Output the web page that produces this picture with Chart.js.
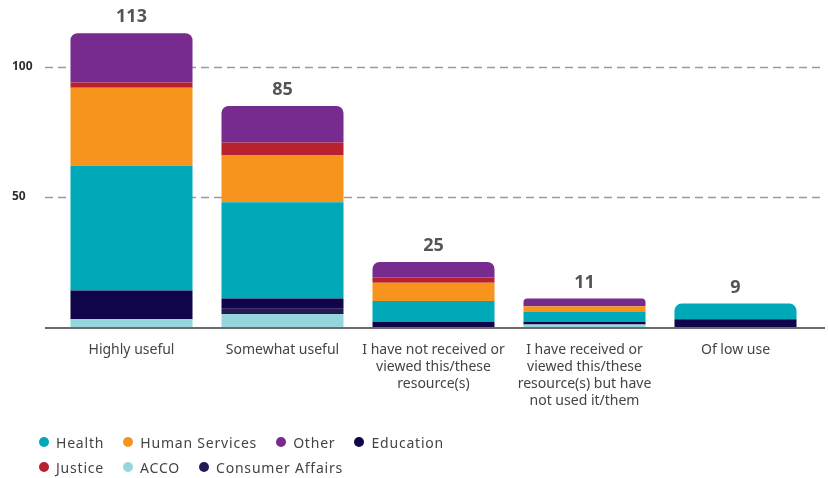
<!DOCTYPE html>
<html>
<head>
<meta charset="utf-8">
<script src="https://cdn.jsdelivr.net/npm/chart.js@4/dist/chart.umd.min.js"></script>
<style>
  html, body { margin: 0; padding: 0; background: #fff; }
  #wrap { position: relative; width: 828px; height: 478px; }
  #legend {
    position: absolute; left: 39px; top: 432px; width: 440px;
    display: flex; flex-wrap: wrap; row-gap: 5px;
    font: 14px "Noto Sans", sans-serif; color: #444; letter-spacing: 0.8px;
  }
  #legend .item { display: flex; align-items: center; margin-right: 19px; height: 20px; }
  #legend .dot { width: 10px; height: 10px; border-radius: 50%; margin-right: 7px; }
</style>
</head>
<body>
<div id="wrap">
  <canvas id="usefulness" width="828" height="478"></canvas>
  <div id="legend"></div>
</div>
<script>
const categories = [
  'Highly useful',
  'Somewhat useful',
  ['I have not received or', 'viewed this/these', 'resource(s)'],
  ['I have received or', 'viewed this/these', 'resource(s) but have', 'not used it/them'],
  'Of low use'
];

// stacked bottom to top
const acco            = [3, 5, 0, 1, 0];
const consumerAffairs = [0, 2, 0, 0, 0];
const education       = [11, 4, 2, 1, 3];
const health          = [48, 37, 8, 4, 6];
const humanServices   = [30, 18, 7, 2, 0];
const justice         = [2, 5, 2, 0, 0];
const other           = [19, 14, 6, 3, 0];

const yTicks = [50, 100];
const legendOrder = ['Health', 'Human Services', 'Other', 'Education', 'Justice', 'ACCO', 'Consumer Affairs'];

const series = [
  { label: 'ACCO', data: acco, color: '#95d6dd' },
  { label: 'Consumer Affairs', data: consumerAffairs, color: '#241b52' },
  { label: 'Education', data: education, color: '#10044a' },
  { label: 'Health', data: health, color: '#00a9b8' },
  { label: 'Human Services', data: humanServices, color: '#f7941e' },
  { label: 'Justice', data: justice, color: '#b8212e' },
  { label: 'Other', data: other, color: '#782b8f' }
];

const totals = categories.map((_, i) => series.reduce((s, d) => s + d.data[i], 0));

// round only the top non-empty segment of each column
function topRadius(ctx) {
  const i = ctx.dataIndex;
  let top = -1;
  series.forEach((s, k) => { if (s.data[i] > 0) top = k; });
  return ctx.datasetIndex === top ? { topLeft: 7, topRight: 7, bottomLeft: 0, bottomRight: 0 } : 0;
}

const gridLines = {
  id: 'gridLines',
  beforeDatasetsDraw(chart) {
    const { ctx, scales: { y } } = chart;
    ctx.save();
    ctx.strokeStyle = '#9a9a9a';
    ctx.lineWidth = 1.3;
    ctx.setLineDash([8, 5]);
    yTicks.forEach(v => {
      const py = Math.round(y.getPixelForValue(v)) + 0.5;
      ctx.beginPath();
      ctx.moveTo(45, py);
      ctx.lineTo(825, py);
      ctx.stroke();
    });
    ctx.restore();
  },
  afterDatasetsDraw(chart) {
    const { ctx, scales: { y } } = chart;
    ctx.save();
    ctx.strokeStyle = '#6b6b6b';
    ctx.lineWidth = 2;
    const py = y.getPixelForValue(0) + 1;
    ctx.beginPath();
    ctx.moveTo(45, py);
    ctx.lineTo(825, py);
    ctx.stroke();

    // totals above each column
    const meta = chart.getDatasetMeta(0);
    ctx.fillStyle = '#555';
    ctx.font = 'bold 18px "Noto Sans", sans-serif';
    ctx.textAlign = 'center';
    ctx.textBaseline = 'bottom';
    totals.forEach((t, i) => {
      const x = meta.data[i].x;
      ctx.fillText(String(t), x, y.getPixelForValue(t) - 7);
    });
    ctx.restore();
  }
};

const chart = new Chart(document.getElementById('usefulness'), {
  type: 'bar',
  data: {
    labels: categories,
    datasets: series.map(s => ({
      label: s.label,
      data: s.data,
      backgroundColor: s.color,
      borderWidth: 0,
      borderRadius: topRadius,
      borderSkipped: false,
      barPercentage: 0.808,
      categoryPercentage: 1
    }))
  },
  options: {
    responsive: false,
    animation: false,
    layout: { padding: { left: 12, right: 17, top: 0, bottom: 0 } },
    plugins: {
      legend: { display: false },
      tooltip: { enabled: false }
    },
    scales: {
      x: {
        stacked: true,
        grid: { display: false },
        border: { display: false },
        ticks: {
          color: '#444',
          padding: 6,
          maxRotation: 0,
          autoSkip: false,
          font: { family: '"Noto Sans", sans-serif', size: 14, lineHeight: 1.22 }
        },
        afterFit(scale) { scale.height = 151; }
      },
      y: {
        stacked: true,
        min: 0,
        max: 123,
        grid: { display: false },
        border: { display: false },
        afterBuildTicks(scale) { scale.ticks = yTicks.map(v => ({ value: v })); },
        ticks: {
          color: '#2e2e2e',
          crossAlign: 'far',
          font: { family: '"Noto Sans", sans-serif', size: 12, weight: 'bold' },
          padding: 0
        },
        afterFit(scale) { scale.width = 44; }
      }
    }
  },
  plugins: [gridLines]
});

// legend
const legendEl = document.getElementById('legend');
legendOrder.forEach(name => {
  const s = series.find(d => d.label === name);
  const item = document.createElement('div');
  item.className = 'item';
  const dot = document.createElement('span');
  dot.className = 'dot';
  dot.style.background = s.color;
  const txt = document.createElement('span');
  txt.textContent = name;
  item.appendChild(dot);
  item.appendChild(txt);
  legendEl.appendChild(item);
});
</script>
</body>
</html>
